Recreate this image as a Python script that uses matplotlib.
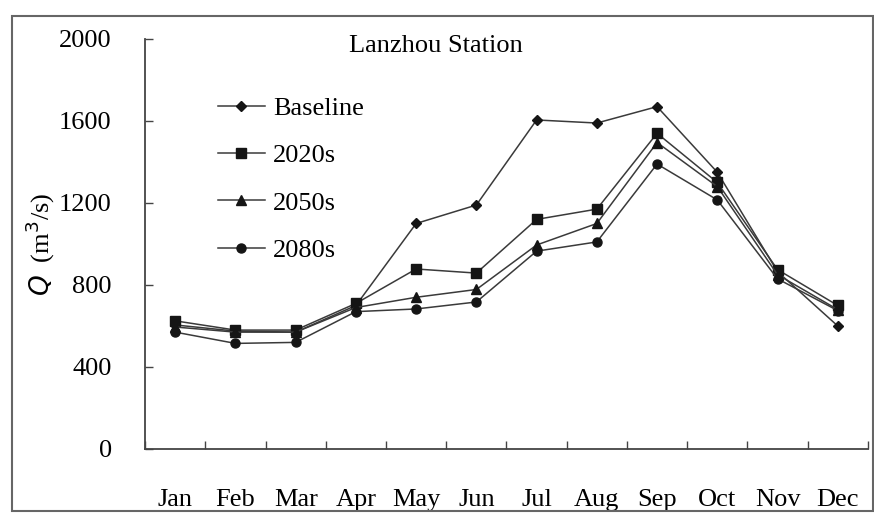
import matplotlib.pyplot as plt
from matplotlib.patches import Rectangle

# monthly discharge, Lanzhou Station (m3/s)
months = ["Jan", "Feb", "Mar", "Apr", "May", "Jun",
          "Jul", "Aug", "Sep", "Oct", "Nov", "Dec"]
baseline = [605, 575, 570, 700, 1100, 1190, 1605, 1590, 1670, 1350, 865, 600]
q2020s = [625, 580, 580, 710, 878, 858, 1120, 1170, 1540, 1300, 875, 700]
q2050s = [595, 570, 570, 690, 740, 778, 995, 1100, 1495, 1280, 850, 680]
q2080s = [570, 515, 520, 670, 683, 717, 965, 1010, 1390, 1215, 830, 675]

series = [("Baseline", baseline, "D", 5.5),
          ("2020s", q2020s, "s", 6.5),
          ("2050s", q2050s, "^", 7),
          ("2080s", q2080s, "o", 6.5)]

plt.rcParams["font.family"] = "Liberation Serif"
fs = 19

fig = plt.figure(figsize=(8.74, 5.13), dpi=100)
ax = fig.add_axes([0.166, 0.1248, 0.827, 0.7992])

x = list(range(len(months)))
for name, vals, mk, ms in series:
    ax.plot(x, vals, color="#3a3a3a", lw=1.1, marker=mk, markersize=ms,
            markerfacecolor="#151515", markeredgecolor="#151515", label=name)

ax.set_xlim(-0.5, 11.5)
ax.set_ylim(0, 2000)
ax.set_yticks([0, 400, 800, 1200, 1600, 2000])
ax.set_xticks(x)
ax.set_xticklabels(months)
ax.set_xticks([i - 0.5 for i in range(13)], minor=True)
ax.tick_params(axis="x", which="major", length=0, pad=29, labelsize=fs)
ax.tick_params(axis="x", which="minor", direction="in", length=6, width=1, color="#444444")
ax.tick_params(axis="y", direction="in", length=6, width=1, pad=24, labelsize=fs,
               color="#444444")
for s in ["top", "right"]:
    ax.spines[s].set_visible(False)
for s in ["left", "bottom"]:
    ax.spines[s].set_color("#444444")
    ax.spines[s].set_linewidth(1.3)

fig.text(0.499, 0.91, "Lanzhou Station", ha="center", va="center", fontsize=fs)
fig.text(0.046, 0.524, r"$Q$  (m$^3$/s)", rotation=90, ha="center", va="center",
         fontsize=fs)

ax.legend(loc="upper left", bbox_to_anchor=(0.237, 0.832), bbox_transform=fig.transFigure,
          frameon=False, fontsize=fs, handlelength=1.8, handletextpad=0.3,
          labelspacing=0.9, borderaxespad=0)

fig.patches.append(Rectangle((0.014, 0.003), 0.985, 0.966, transform=fig.transFigure,
                             fill=False, edgecolor="#666666", lw=1.5))

fig.savefig("out.png", dpi=100)
